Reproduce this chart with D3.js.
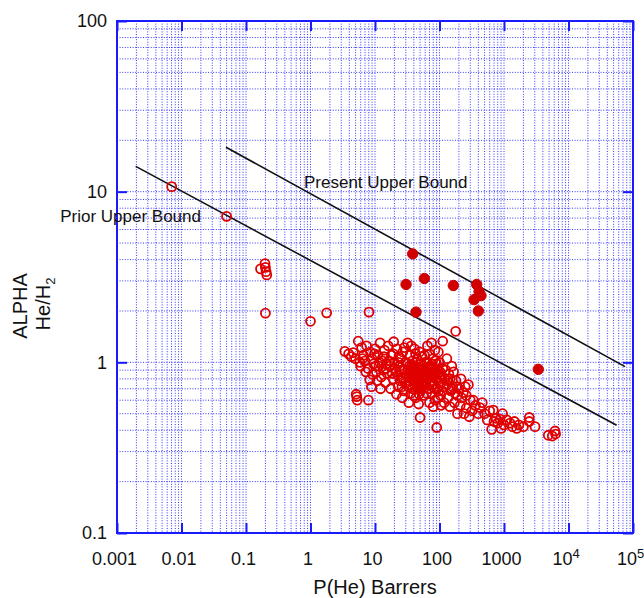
<!DOCTYPE html>
<html>
<head>
<meta charset="utf-8">
<script src="https://cdn.jsdelivr.net/npm/d3@7"></script>
<style>
    body { margin: 0; background: #fff; }
    svg { font-family: "Liberation Sans", Arial, sans-serif; }
    .grid line { stroke: #2424ff; stroke-width: 1; stroke-dasharray: 1,1.6; opacity: 0.9; }
    .frame { fill: none; stroke: #1a1aff; stroke-width: 2; }
    .axis path { display: none; }
    .axis line { stroke: #1a1aff; stroke-width: 2; }
    .axis text { fill: #111; font-size: 18px; }
    .bound { stroke: #111; stroke-width: 1.6; fill: none; }
    .open { fill: none; stroke: #e00000; stroke-width: 1.8; }
    .filled { fill: #d00000; stroke: #d00000; stroke-width: 1; }
    .note { fill: #111; font-size: 17px; }
</style>
</head>
<body>
<div id="chart"></div>
<script>
// tick values
const xTickValues = [0.001, 0.01, 0.1, 1, 10, 100, 1000, 1e4, 1e5];
const yTickValues = [0.1, 1, 10, 100];

// upper bound lines [P(He), alpha]
const priorBound = [[0.00195, 14.06], [55800, 0.428]];
const presentBound = [[0.049, 18.2], [75200, 0.944]];

// filled circles [P(He), alpha]
const filledData = [
    [38.4, 4.32], [30.3, 2.86], [58.2, 3.1], [163.7, 2.82], [43.2, 1.97],
    [377, 2.86], [410, 2.6], [440, 2.46], [343, 2.33], [400, 2.0], [3400, 0.91]
];

// open circles [P(He), alpha]
const openData = [
    // far left outliers
    [0.00705, 10.7], [0.05, 7.17], [0.168, 3.53], [0.197, 3.79], [0.2, 3.6], [0.205, 3.4],
    [0.21, 3.25], [0.2, 1.94], [1.0, 1.74], [1.78, 1.95], [8.07, 1.97], [178, 1.52], [112, 1.33],
    // x 3 - 8
    [3.4, 1.16], [3.9, 1.12], [4.3, 1.08], [4.6, 1.14], [5.5, 1.33], [5.0, 1.05], [5.8, 1.0],
    [6.2, 1.22], [6.6, 1.1], [5.2, 0.63], [5.3, 0.6], [7.9, 0.6], [6.0, 0.95], [7.0, 1.02],
    [7.4, 1.25], [7.8, 0.92], [8.3, 0.79], [5.1, 0.65], [6.4, 1.05], [7.2, 0.88],
    // x 8 - 16
    [8.5, 1.15], [9.0, 1.05], [9.5, 0.98], [10, 1.2], [10.5, 0.88], [11, 1.1], [11.5, 0.95],
    [12, 1.3], [12.5, 0.82], [13, 1.02], [13.5, 0.9], [14, 1.18], [14.5, 0.76], [15, 0.98],
    [9.2, 0.85], [10.8, 0.78], [8.8, 0.72], [12.2, 0.7], [13.8, 1.08], [15.5, 0.86],
    [9.8, 1.12], [11.8, 1.0], [14.8, 0.92], [10.2, 0.95],
    // x 16 - 30
    [16, 1.25], [17, 0.95], [18, 1.1], [19, 0.8], [20, 1.0], [21, 0.88], [22, 1.2], [23, 0.72],
    [24, 0.95], [25, 1.05], [26, 0.82], [27, 1.15], [28, 0.68], [29, 0.9], [30, 1.0], [17.5, 0.7],
    [19.5, 1.32], [21.5, 0.65], [23.5, 1.08], [26.5, 0.62], [28.5, 1.22], [18.5, 0.86],
    [24.5, 0.78], [29.5, 0.76], [16.5, 1.02], [20.5, 0.92], [22.5, 0.84], [25.5, 0.9],
    [27.5, 0.8], [19.2, 1.12], [23.2, 1.0], [26.2, 0.72],
    // x 30 - 60
    [31, 0.85], [32, 1.3], [33, 0.72], [34, 0.95], [35, 1.1], [36, 0.66], [37, 0.8], [38, 1.02],
    [39, 0.88], [40, 0.75], [41, 1.2], [42, 0.93], [43, 0.62], [44, 0.83], [45, 1.05], [46, 0.7],
    [47, 0.9], [48, 0.78], [49, 1.15], [50, 0.86], [51, 0.68], [52, 0.98], [53, 0.76], [54, 1.08],
    [55, 0.82], [56, 0.64], [57, 0.92], [58, 0.73], [59, 1.0], [60, 0.84], [32.5, 0.9],
    [34.5, 0.78], [36.5, 1.25], [38.5, 0.7], [40.5, 0.96], [42.5, 1.12], [44.5, 0.74],
    [46.5, 0.86], [48.5, 0.65], [50.5, 0.98], [52.5, 0.8], [54.5, 0.72], [56.5, 0.88],
    [58.5, 1.1], [50, 0.475], [33.5, 0.58], [47.5, 0.57], [37.5, 0.92], [41.5, 0.82],
    [45.5, 0.78], [53.5, 0.9], [57.5, 0.78], [43.5, 1.0], [39.5, 0.64], [35.5, 0.85], [55.5, 0.95],
    [31.5, 0.98], [33.2, 0.82], [36.2, 0.94], [38.2, 0.84], [40.2, 0.86], [42.2, 0.76],
    [44.2, 0.94], [46.2, 0.8], [48.2, 0.92], [51.5, 0.9], [53.2, 0.84], [55.2, 0.76],
    [57.2, 0.85], [59.2, 0.9], [35.2, 0.74], [45.2, 0.88], [49.2, 0.72], [52.2, 0.7],
    // x 60 - 120
    [62, 0.76], [64, 1.0], [66, 0.88], [68, 0.7], [70, 1.12], [72, 0.82], [74, 0.95], [76, 0.66],
    [78, 0.86], [80, 1.05], [82, 0.74], [84, 0.9], [86, 0.6], [88, 0.8], [90, 0.98], [92, 0.7],
    [94, 0.86], [96, 1.15], [98, 0.76], [100, 1.0], [104, 0.64], [108, 0.84], [112, 0.92],
    [116, 0.72], [120, 0.8], [90.6, 0.415], [65, 1.25], [75, 1.3], [85, 1.18], [95, 0.62],
    [70, 0.58], [80, 0.55], [105, 0.56], [63, 0.66], [67, 0.94], [73, 0.76], [77, 0.98],
    [83, 0.82], [87, 1.02], [93, 0.9], [99, 0.82], [110, 0.68], [118, 0.58],
    [61, 0.9], [65, 0.8], [69, 0.86], [71, 0.92], [75, 0.84], [79, 0.74], [81, 0.92],
    [85, 0.7], [89, 0.88], [97, 0.68], [102, 0.88], [106, 0.76],
    // x 120 - 400
    [125, 0.9], [130, 0.74], [135, 0.62], [140, 0.85], [146, 0.8], [150, 0.68], [155, 0.95],
    [160, 0.72], [170, 0.58], [180, 0.78], [190, 0.64], [200, 0.7], [210, 0.56], [220, 0.62],
    [234, 0.665], [250, 0.72], [260, 0.54], [280, 0.74], [300, 0.6], [320, 0.52], [334, 0.6],
    [360, 0.56], [400, 0.5], [130, 1.05], [165, 0.88], [145, 0.55], [190, 0.5], [240, 0.5],
    [290, 0.48], [175, 0.66], [215, 0.8], [260, 0.64], [135, 0.78], [155, 0.7], [185, 0.72],
    // x 400 - 7000
    [425, 0.543], [460, 0.58], [500, 0.5], [550, 0.46], [600, 0.52], [644, 0.405], [682, 0.525],
    [750, 0.47], [800, 0.44], [867, 0.465], [950, 0.5], [1000, 0.43], [1100, 0.46], [1240, 0.44],
    [1350, 0.42], [1574, 0.41], [1700, 0.43], [2466, 0.475], [2466, 0.45], [3027, 0.42],
    [4860, 0.374], [6180, 0.396], [6300, 0.38], [5600, 0.37], [700, 0.45], [900, 0.41],
    [1450, 0.45], [2000, 0.42]
];

const width = 644;
const height = 598;
const plotLeft = 117;
const plotRight = 633;
const plotTop = 21;
const plotBottom = 533;
const tickLen = 10;

function setGraph(graphId) {
    let svg = d3.select(`#${ graphId }`)
        .append("svg")
            .attr("width", width)
            .attr("height", height);

    let scaleX = d3.scaleLog()
        .domain([1e-3, 1e5])
        .range([plotLeft, plotRight]);
    let scaleY = d3.scaleLog()
        .domain([0.1, 100])
        .range([plotBottom, plotTop]);

    createGrid(svg, scaleX, scaleY);
    createAxes(svg, scaleX, scaleY);
    plotGraph(svg, scaleX, scaleY);
    createLabels(svg);
}

function createGrid(svg, scaleX, scaleY) {
    let grid = svg.append("g").attr("class", "grid");

    grid.selectAll(".gx")
        .data(scaleX.ticks())
        .enter()
        .append("line")
            .attr("class", "gx")
            .attr("x1", d => scaleX(d))
            .attr("x2", d => scaleX(d))
            .attr("y1", plotTop)
            .attr("y2", plotBottom);

    grid.selectAll(".gy")
        .data(scaleY.ticks())
        .enter()
        .append("line")
            .attr("class", "gy")
            .attr("x1", plotLeft)
            .attr("x2", plotRight)
            .attr("y1", d => scaleY(d))
            .attr("y2", d => scaleY(d));
}

function formatX(d) {
    if (d >= 1e4) return "";
    if (d < 1) return d.toString();
    return d3.format("d")(d);
}

function createAxes(svg, scaleX, scaleY) {
    let axisBottom = d3.axisBottom(scaleX)
        .tickValues(xTickValues)
        .tickSize(-tickLen)
        .tickPadding(19)
        .tickFormat(formatX);
    let xAxis = svg.append("g")
        .attr("class", "axis")
        .attr("transform", `translate(0, ${ plotBottom })`)
        .call(axisBottom);

    // powers of ten as superscripts
    xAxis.selectAll("text")
        .attr("x", -3)
        .each(function(d) {
            if (d >= 1e4) {
                let text = d3.select(this);
                text.append("tspan").text("10");
                text.append("tspan")
                    .attr("dy", "-0.55em")
                    .attr("font-size", "13px")
                    .text(Math.round(Math.log10(d)));
            }
        });

    svg.append("g")
        .attr("class", "axis")
        .attr("transform", `translate(0, ${ plotTop })`)
        .call(d3.axisTop(scaleX).tickValues(xTickValues).tickSize(-tickLen).tickFormat(""));

    svg.append("g")
        .attr("class", "axis")
        .attr("transform", `translate(${ plotLeft }, 0)`)
        .call(d3.axisLeft(scaleY)
            .tickValues(yTickValues)
            .tickSize(-tickLen)
            .tickPadding(10)
            .tickFormat(d => d.toString()));

    svg.append("g")
        .attr("class", "axis")
        .attr("transform", `translate(${ plotRight }, 0)`)
        .call(d3.axisRight(scaleY).tickValues(yTickValues).tickSize(-tickLen).tickFormat(""));

    svg.append("rect")
        .attr("class", "frame")
        .attr("x", plotLeft)
        .attr("y", plotTop)
        .attr("width", plotRight - plotLeft)
        .attr("height", plotBottom - plotTop);
}

function plotGraph(svg, scaleX, scaleY) {
    let line = d3.line()
        .x(d => scaleX(d[0]))
        .y(d => scaleY(d[1]));

    svg.selectAll(".bound")
        .data([priorBound, presentBound])
        .enter()
        .append("path")
            .attr("class", "bound")
            .attr("d", line);

    svg.selectAll(".open")
        .data(openData)
        .enter()
        .append("circle")
            .attr("class", "open")
            .attr("cx", d => scaleX(d[0]))
            .attr("cy", d => scaleY(d[1]))
            .attr("r", 4.5);

    svg.selectAll(".filled")
        .data(filledData)
        .enter()
        .append("circle")
            .attr("class", "filled")
            .attr("cx", d => scaleX(d[0]))
            .attr("cy", d => scaleY(d[1]))
            .attr("r", 5.2);
}

function createLabels(svg) {
    svg.append("text")
        .attr("class", "note")
        .attr("x", 201)
        .attr("y", 222)
        .attr("text-anchor", "end")
        .text("Prior Upper Bound");

    svg.append("text")
        .attr("class", "note")
        .attr("x", 304)
        .attr("y", 188)
        .text("Present Upper Bound");

    svg.append("text")
        .attr("x", (plotLeft + plotRight) / 2)
        .attr("y", 594)
        .attr("text-anchor", "middle")
        .attr("font-size", "20px")
        .attr("fill", "#111")
        .text("P(He) Barrers");

    svg.append("text")
        .attr("transform", "translate(27, 306) rotate(-90)")
        .attr("text-anchor", "middle")
        .attr("font-size", "20px")
        .attr("fill", "#111")
        .text("ALPHA");

    let sub = svg.append("text")
        .attr("transform", "translate(50, 304) rotate(-90)")
        .attr("text-anchor", "middle")
        .attr("font-size", "20px")
        .attr("fill", "#111");
    sub.append("tspan").text("He/H");
    sub.append("tspan")
        .attr("dy", "0.35em")
        .attr("font-size", "13px")
        .text("2");
}

setGraph("chart");
</script>
</body>
</html>
